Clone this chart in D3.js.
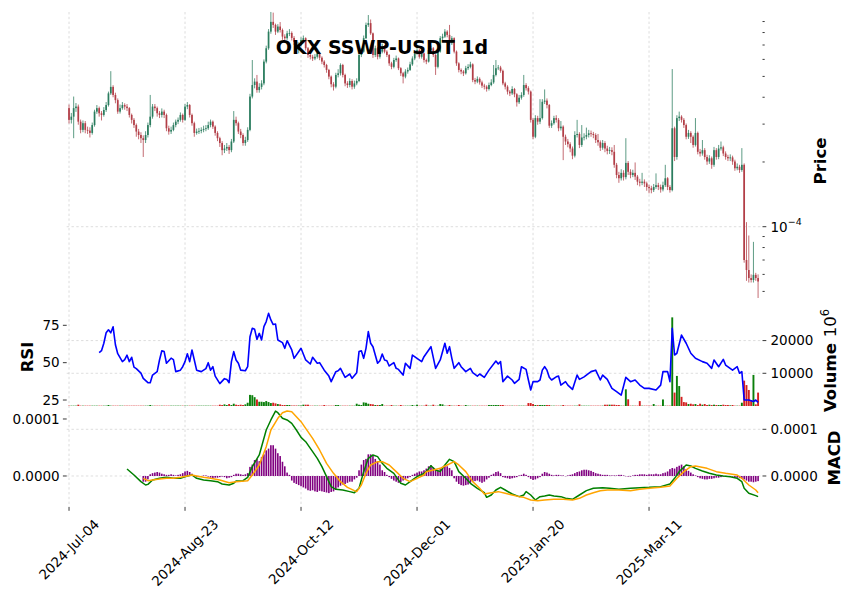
<!DOCTYPE html>
<html>
<head>
<meta charset="utf-8">
<script src="https://cdn.jsdelivr.net/npm/d3@7/dist/d3.min.js"></script>
<style>
  html,body{margin:0;padding:0;background:#fff;}
  svg{display:block;font-family:"DejaVu Sans","Liberation Sans",sans-serif;}
</style>
</head>
<body>
<svg id="chart" width="853" height="599"></svg>
<script>
// ---------------- DATA ----------------
const chartTitle = "OKX SSWP-USDT 1d";
const tickIdx = [0, 50, 100, 150, 200, 250];
const tickLabels = ["2024-Jul-04", "2024-Aug-23", "2024-Oct-12", "2024-Dec-01", "2025-Jan-20", "2025-Mar-11"];
const PRICE_UNIT = 1e-4;   // OHLC values below are in units of 1e-4 USDT
const MACD_UNIT = 1e-4;    // MACD values below are in units of 1e-4
const priceMajorTicks = [1e-4];
const priceMinorTicks = [5e-5, 6e-5, 7e-5, 8e-5, 9e-5, 2e-4, 3e-4, 4e-4, 5e-4, 6e-4, 7e-4, 8e-4, 9e-4];
const rsiTicks = [25, 50, 75];
const volTicks = [10000, 20000];       // volume axis in units of 1e6
const macdLeftTicks = [0, 1e-4];
const macdRightTicks = [0, 1e-4];

const opens = [
3.56,3.14,3.25,3.56,3.62,3.08,2.82,3.03,2.82,2.80,
2.73,2.97,3.43,3.56,3.37,3.31,3.49,3.68,4.17,4.47,
4.10,3.88,3.43,3.56,3.68,3.62,3.56,3.31,3.14,2.97,
2.77,2.67,2.58,2.53,2.67,2.97,3.25,3.62,3.56,3.37,
3.31,3.43,3.31,2.87,2.77,2.82,2.97,3.08,3.14,3.31,
3.14,3.62,3.68,3.31,3.03,2.73,2.77,2.79,2.82,2.85,
2.87,2.97,3.08,2.92,2.73,2.58,2.45,2.27,2.31,2.35,
2.27,2.49,3.14,3.03,2.77,2.67,2.45,2.53,2.82,4.03,
4.56,4.73,4.32,4.47,4.64,5.86,6.76,8.08,8.97,8.68,
8.08,8.53,8.22,7.66,7.53,7.93,7.96,7.55,7.24,6.63,
7.01,7.39,7.53,6.76,6.29,6.17,6.06,6.17,6.40,6.11,
5.86,5.65,5.36,4.99,4.60,4.48,5.08,5.17,5.65,5.08,
4.64,4.56,4.76,4.48,4.64,4.76,6.29,6.52,7.53,8.68,
8.85,7.93,6.29,6.76,6.17,6.52,6.88,6.52,6.29,5.75,
5.54,5.96,6.06,5.46,5.17,4.99,5.27,5.36,5.69,6.06,
6.40,6.63,6.17,6.40,5.96,5.86,6.63,6.76,6.29,5.54,
6.52,7.53,7.66,8.08,7.80,7.14,7.53,6.52,5.75,5.36,
5.27,5.17,5.46,5.54,5.69,4.81,4.73,4.87,4.69,4.53,
4.48,4.37,4.56,4.69,5.08,5.46,5.50,5.31,4.64,4.48,
4.25,4.17,4.37,4.13,3.79,3.98,4.10,4.56,4.41,4.25,
3.14,2.62,3.20,3.08,3.20,3.81,3.86,3.68,2.95,3.03,
3.20,3.14,2.87,2.92,2.62,2.49,2.42,2.31,2.14,2.67,
2.70,2.40,2.60,2.62,2.67,2.72,2.70,2.67,2.53,2.47,
2.33,2.45,2.31,2.25,2.27,2.23,1.94,1.74,1.68,1.78,
1.70,1.98,1.80,1.74,1.78,1.71,1.62,1.60,1.62,1.59,
1.53,1.51,1.48,1.53,1.56,1.53,1.49,1.56,1.68,1.53,
1.48,2.87,2.11,3.20,3.25,3.14,2.97,2.62,2.73,2.62,
2.40,2.73,2.23,2.19,2.27,2.11,2.01,2.08,1.94,2.27,
2.11,2.31,2.34,2.19,2.11,2.08,2.10,2.01,1.87,1.90,
1.835,1.94,0.70,0.629,0.577,0.565,0.597,0.577];

const highs = [
3.70,3.38,4.03,3.76,3.70,3.15,3.12,3.10,2.92,2.90,
3.05,3.50,3.68,3.62,3.45,3.60,3.80,4.25,5.29,4.55,
4.20,3.95,3.70,3.80,3.75,3.72,3.60,3.36,3.20,3.02,
2.85,2.75,2.66,2.78,3.05,4.10,3.72,3.72,3.62,3.45,
3.55,3.50,3.36,2.95,2.92,3.05,3.15,3.22,3.40,3.36,
3.72,3.80,3.72,3.36,3.08,2.86,2.88,2.90,2.95,2.97,
3.08,3.15,3.12,2.96,2.78,2.62,2.50,2.40,2.45,2.40,
2.56,3.45,3.25,3.08,2.85,2.72,2.62,2.90,4.15,5.96,
4.90,5.08,4.65,4.80,6.00,6.95,8.30,9.97,9.90,8.80,
8.75,8.95,8.35,7.85,8.15,8.30,8.10,7.70,7.35,7.20,
7.60,7.75,7.60,6.85,6.40,6.30,6.35,6.55,6.50,6.20,
5.95,5.72,5.42,5.05,4.70,5.20,5.40,5.75,5.72,5.15,
4.75,4.90,4.85,4.78,4.90,6.40,6.75,7.75,8.90,9.65,
9.20,8.00,6.95,6.85,6.70,7.10,7.00,6.62,6.35,5.85,
6.10,6.25,6.12,5.52,5.25,5.40,5.50,5.85,6.20,6.55,
6.80,6.70,6.55,6.45,6.05,6.80,6.95,6.85,6.35,6.65,
7.70,7.90,8.30,8.20,8.68,7.70,7.60,6.60,5.82,5.45,
5.35,5.60,5.70,5.85,5.75,4.92,5.00,4.95,4.78,4.62,
4.55,4.68,4.85,5.65,5.96,5.65,5.60,5.38,4.72,4.55,
4.32,4.50,4.42,4.18,4.10,4.22,5.08,4.65,4.50,4.30,
3.20,3.30,3.28,3.92,3.92,4.35,3.95,3.72,3.12,3.28,
3.30,3.20,3.10,2.96,2.68,2.56,2.47,2.36,2.78,3.14,
2.75,2.97,2.72,2.89,2.82,2.80,2.76,2.72,2.70,2.52,
2.53,2.50,2.38,2.35,2.34,2.40,1.98,1.80,1.85,1.83,
2.58,2.02,1.85,1.84,1.99,1.74,1.67,1.78,1.66,1.62,
1.57,1.55,1.58,1.77,1.60,1.57,1.62,1.94,1.70,1.56,
5.41,2.92,3.30,3.43,3.30,3.20,3.02,2.82,2.78,2.66,
3.20,2.77,2.30,2.53,2.32,2.16,2.15,2.12,2.35,2.32,
2.40,2.49,2.38,2.24,2.16,2.17,2.14,2.05,1.97,1.94,
2.32,1.97,1.05,0.91,0.60,0.85,0.61,0.60];

const lows = [
3.02,3.02,2.58,3.42,2.98,2.72,2.75,2.72,2.70,2.60,
2.68,2.92,3.35,3.25,3.12,3.25,3.42,3.62,4.10,4.00,
3.75,3.35,3.36,3.50,3.50,3.45,3.22,3.02,2.88,2.62,
2.55,2.45,2.11,2.45,2.60,2.90,3.18,3.45,3.25,3.20,
3.22,3.20,2.78,2.68,2.70,2.78,2.90,3.00,3.08,3.05,
3.10,3.52,3.22,2.95,2.62,2.68,2.70,2.72,2.75,2.78,
2.82,2.90,2.85,2.65,2.50,2.35,2.15,2.20,2.25,2.18,
2.22,2.45,2.95,2.70,2.58,2.38,2.38,2.48,2.78,3.95,
4.40,4.20,4.20,4.35,4.55,5.75,6.65,7.90,8.40,7.80,
7.95,8.00,7.40,7.30,7.40,7.70,7.35,7.00,6.45,6.40,
6.90,7.20,6.60,6.10,6.00,5.90,5.95,6.05,5.95,5.70,
5.50,5.20,4.85,4.45,4.30,4.40,4.95,5.05,4.95,4.50,
4.42,4.45,4.35,4.38,4.55,4.70,6.15,6.45,7.45,8.50,
7.80,6.10,6.15,6.00,6.05,6.40,6.40,6.15,5.60,5.40,
5.45,5.85,5.35,5.02,4.64,4.90,5.15,5.30,5.60,5.95,
6.30,6.05,6.05,5.80,5.70,5.80,6.50,6.15,5.08,5.45,
6.45,7.35,7.55,7.60,7.00,7.00,6.40,5.60,5.22,5.12,
5.02,5.10,5.35,5.45,4.70,4.60,4.65,4.58,4.42,4.35,
4.25,4.30,4.50,4.62,5.00,5.35,5.20,4.55,4.35,4.12,
4.05,4.10,4.00,3.62,3.72,3.90,4.02,4.30,4.12,3.05,
2.55,2.58,2.98,3.00,3.15,3.72,3.55,2.88,2.88,2.98,
3.05,2.78,2.80,2.04,2.40,2.34,2.22,2.06,2.10,2.60,
2.32,2.35,2.52,2.55,2.60,2.62,2.58,2.45,2.38,2.25,
2.28,2.22,2.17,2.18,2.15,1.88,1.68,1.60,1.64,1.64,
1.66,1.74,1.68,1.70,1.65,1.56,1.54,1.56,1.53,1.47,
1.43,1.43,1.45,1.50,1.48,1.44,1.46,1.53,1.48,1.44,
1.46,2.02,2.05,3.10,3.05,2.88,2.55,2.56,2.45,2.33,
2.36,2.17,2.12,2.14,2.05,1.94,1.96,1.86,1.90,2.05,
2.06,2.26,2.13,2.05,2.02,2.02,1.94,1.82,1.83,1.78,
1.80,0.68,0.56,0.55,0.55,0.55,0.56,0.466];

const closes = [
3.14,3.25,3.56,3.62,3.08,2.82,3.03,2.82,2.80,2.73,
2.97,3.43,3.56,3.37,3.31,3.49,3.68,4.17,4.47,4.10,
3.88,3.43,3.56,3.68,3.62,3.56,3.31,3.14,2.97,2.77,
2.67,2.58,2.53,2.67,2.97,3.25,3.62,3.56,3.37,3.31,
3.43,3.31,2.87,2.77,2.82,2.97,3.08,3.14,3.31,3.14,
3.62,3.68,3.31,3.03,2.73,2.77,2.79,2.82,2.85,2.87,
2.97,3.08,2.92,2.73,2.58,2.45,2.27,2.31,2.35,2.27,
2.49,3.14,3.03,2.77,2.67,2.45,2.53,2.82,4.03,4.56,
4.73,4.32,4.47,4.64,5.86,6.76,8.08,8.97,8.68,8.08,
8.53,8.22,7.66,7.53,7.93,7.96,7.55,7.24,6.63,7.01,
7.39,7.53,6.76,6.29,6.17,6.06,6.17,6.40,6.11,5.86,
5.65,5.36,4.99,4.60,4.48,5.08,5.17,5.65,5.08,4.64,
4.56,4.76,4.48,4.64,4.76,6.29,6.52,7.53,8.68,8.85,
7.93,6.29,6.76,6.17,6.52,6.88,6.52,6.29,5.75,5.54,
5.96,6.06,5.46,5.17,4.99,5.27,5.36,5.69,6.06,6.40,
6.63,6.17,6.40,5.96,5.86,6.63,6.76,6.29,5.54,6.52,
7.53,7.66,8.08,7.80,7.14,7.53,6.52,5.75,5.36,5.27,
5.17,5.46,5.54,5.69,4.81,4.73,4.87,4.69,4.53,4.48,
4.37,4.56,4.69,5.08,5.46,5.50,5.31,4.64,4.48,4.25,
4.17,4.37,4.13,3.79,3.98,4.10,4.56,4.41,4.25,3.14,
2.62,3.20,3.08,3.20,3.81,3.86,3.68,2.95,3.03,3.20,
3.14,2.87,2.92,2.62,2.49,2.42,2.31,2.14,2.67,2.70,
2.40,2.60,2.62,2.67,2.72,2.70,2.67,2.53,2.47,2.33,
2.45,2.31,2.25,2.27,2.23,1.94,1.74,1.68,1.78,1.70,
1.98,1.80,1.74,1.78,1.71,1.62,1.60,1.62,1.59,1.53,
1.51,1.48,1.53,1.56,1.53,1.49,1.56,1.68,1.53,1.48,
2.87,2.11,3.20,3.25,3.14,2.97,2.62,2.73,2.62,2.40,
2.73,2.23,2.19,2.27,2.11,2.01,2.08,1.94,2.27,2.11,
2.31,2.34,2.19,2.11,2.08,2.10,2.01,1.87,1.90,1.835,
1.94,0.70,0.629,0.577,0.565,0.597,0.577,0.556];

// volume, in units of 1e6
const volumes = [
100,100,100,100,400,100,100,100,100,100,
100,100,100,100,100,100,100,300,100,100,
100,100,100,100,100,100,100,100,100,100,
100,100,100,100,100,300,100,100,100,100,
100,100,100,100,100,100,100,100,100,100,
100,100,100,100,100,100,100,100,100,100,
100,100,100,100,100,400,300,500,300,600,
300,700,400,300,400,300,500,1000,3400,3300,
2700,2000,1300,1300,1200,1500,1200,900,1000,800,
600,500,300,300,300,300,150,150,150,150,
150,400,400,400,100,100,100,100,100,100,
300,100,100,100,100,300,300,100,100,100,
100,100,100,100,700,400,300,1100,1000,700,
600,500,300,300,300,600,100,100,100,300,
100,100,100,300,100,100,100,100,300,100,
400,100,100,100,400,100,100,400,100,100,
600,500,100,100,300,100,100,100,300,100,
100,300,100,100,100,100,100,100,100,100,
100,300,300,300,300,300,300,300,100,100,
100,100,100,100,100,100,100,100,900,900,
600,300,300,300,300,300,300,300,100,100,
100,100,100,300,100,100,100,100,100,100,
500,100,100,100,100,100,100,100,100,100,
100,400,400,400,400,400,300,300,100,100,
5100,2050,100,100,100,100,1500,100,100,100,
100,100,600,100,100,100,2000,100,100,100,
27100,4100,9200,6100,2800,1200,1100,600,700,500,
600,300,700,400,600,300,400,300,400,300,
300,300,400,300,300,200,300,100,100,100,
1000,7750,6400,4900,1800,9500,500,4100];

// RSI (read at these day indices)
const rsiIdx = [
13,14,15,16,17,18,19,20,21,23, 24,25,26,27,28,29,31,32,34,35,
36,38,39,40,41,42,44,45,46,48, 49,50,51,52,53,54,55,57,58,59,
60,61,62,63,65,67,68,69,70,71, 72,73,74,76,77,78,79,80,81,82,
83,84,85,86,87,88,89,90,92,93, 94,96,97,100,102,104,105,107,108,110,
112,113,115,116,117,119,121,122,124,125, 126,127,128,129,130,131,133,134,135,136,
137,138,140,141,142,144,145,147,148,150, 152,153,156,158,160,162,163,164,165,166,
168,169,171,173,174,176,177,179,181,184, 185,186,187,189,191,192,194,195,197,198,
199,200,202,203,204,205,206,207,208,210, 211,212,214,215,217,219,220,222,225,227,
229,230,232,234,236,238,240,242,244,246, 248,250,253,255,256,258,259,260,261,262,
264,266,268,270,273,275,277,278,280,282, 283,286,288,289,290,291,293,295,296,297];
const rsiVal = [
56.7,58,63,70,72,70,74,62,56,50.7, 52,55,50.7,53.6,47,46,43,39.5,36.6,36.6,
41.7,44,51.8,58,57.4,49.6,53,52,44,45, 47.3,50.7,56,50.7,58.5,51.8,45,44,45,46,
50,45,47.3,41,36,39.3,38.8,36.6,50.7,57.4, 51.8,49.6,45,44.6,47.3,67.4,73,72.3,65.6,69.6,
65.2,74.1,77.5,83,78.6,75.5,75.9,65.2,63.4,59.6, 64.7,58.5,52.9,59.6,51.8,49.1,53.6,49.6,50,45,
41,37.3,44,44.6,46.2,40.2,42.4,39.5,43.3,57.4, 58,52.9,59.6,70.8,63,60.7,49.6,51.3,55.8,51.8,
51.3,47.8,50,46.2,45.5,41.7,49.6,46.2,55.1,52.9, 50.7,54,60.7,46.2,51.8,63,56.3,60.7,52.9,46.2,
50,47.3,44,46.2,43.3,41,42.4,40.2,45,51.1, 49.1,50.7,37.3,41,38.4,36.2,38.8,47.3,45.5,38.4,
31.7,37.3,37.3,38.4,45,47.3,45,40.2,38.4,40.5, 41,35,37.3,35,32.1,41.7,38.8,40.5,44,45,
38.4,41.7,38.8,32.8,30.6,28.3,40.2,37.3,38.4,35, 32.8,32.8,31.7,35,44,44,37.3,73,55.1,56.3,
68.5,63,56.3,52.9,50.7,49.6,46.2,51.8,47.3,52.2, 48.4,45,47.3,42.9,44,25,25,24,25,23.4];

// MACD line (units of 1e-4)
const macdIdx = [25,28,31,33,34,36,39,42,45,48,51,53,55,58,61,64,66,69,71,72,
75,77,79,82,85,87,89,90,92,94,96,98,100,102,105,107,109,111,113,115,
118,121,123,125,127,129,131,133,135,137,140,143,145,147,150,153,154,156,158,160,
162,164,166,168,171,173,176,179,180,182,184,186,188,191,194,196,197,199,201,203,
205,207,209,212,214,217,220,223,226,230,233,237,242,246,250,255,259,261,263,266,
268,270,273,276,279,282,285,288,290,291,293,296,297];
const macdVal = [0.150,0.021,-0.121,-0.193,-0.179,-0.086,-0.050,-0.029,-0.050,-0.050,0,0.021,-0.050,-0.086,-0.100,-0.121,-0.171,-0.193,-0.157,-0.107,
-0.100,-0.029,0.200,0.450,0.985,1.20,1.39,1.356,1.235,1.20,1.128,0.985,0.828,0.735,0.521,0.378,0.200,-0.014,-0.228,-0.286,
-0.300,-0.335,-0.357,-0.264,0.093,0.378,0.450,0.414,0.271,0.164,0.057,-0.157,-0.193,-0.121,-0.014,0.057,0.093,0.221,0.128,0.093,
0.236,0.357,0.307,0.093,-0.050,-0.157,-0.264,-0.357,-0.457,-0.407,-0.300,-0.243,-0.300,-0.386,-0.442,-0.407,-0.335,-0.407,-0.514,-0.442,
-0.428,-0.407,-0.428,-0.442,-0.478,-0.500,-0.407,-0.314,-0.264,-0.250,-0.264,-0.286,-0.264,-0.250,-0.243,-0.228,-0.171,-0.050,0.093,0.236,
0.214,0.164,0.107,0.057,0.021,0,-0.014,-0.050,-0.121,-0.264,-0.371,-0.421,-0.443];

// MACD signal line (units of 1e-4)
const signalIdx = [32,34,36,39,42,45,48,51,53,55,58,61,65,69,72,77,79,82,85,87,
90,92,94,96,98,100,102,105,108,111,114,117,120,123,124,126,128,130,133,135,
138,141,144,147,150,153,154,157,160,163,166,168,171,174,177,179,182,185,188,191,
194,196,199,202,205,209,213,217,220,223,226,229,232,235,237,242,246,250,255,259,
262,265,268,270,275,279,283,288,290,293,296,297];
const signalVal = [-0.050,-0.100,-0.086,-0.064,-0.050,-0.050,-0.029,0,0.021,0,-0.029,-0.050,-0.086,-0.143,-0.121,-0.100,0.021,0.236,0.628,0.985,
1.235,1.356,1.392,1.378,1.271,1.164,1.021,0.807,0.557,0.271,0.057,-0.121,-0.243,-0.314,-0.335,-0.193,0.057,0.236,0.307,0.307,
0.236,0.093,-0.050,-0.121,-0.050,0.021,0.093,0.128,0.164,0.236,0.307,0.236,0.093,-0.121,-0.264,-0.386,-0.357,-0.335,-0.371,-0.407,
-0.442,-0.457,-0.514,-0.528,-0.514,-0.500,-0.500,-0.514,-0.478,-0.407,-0.357,-0.314,-0.300,-0.300,-0.300,-0.314,-0.286,-0.264,-0.243,-0.214,
-0.050,0.093,0.200,0.214,0.164,0.093,0.057,0.021,-0.050,-0.193,-0.300,-0.357];

// MACD histogram (units of 1e-4), one bar per day starting at histStart
const histStart = 32;
const histVal = [
-0.10,-0.10,-0.06,0.03,0.05,0.06,0.07,0.06,0.04,0.03,
0.02,0.02,0.03,0.02,0.01,0.02,0.03,0.05,0.08,0.09,
0.07,0.04,-0.01,-0.02,-0.02,-0.01,0.01,0.01,-0.01,-0.03,
-0.04,-0.03,-0.03,-0.02,-0.01,-0.02,-0.04,-0.03,-0.02,0.02,
0.04,0.04,0.03,0.02,0.03,0.05,0.16,0.20,0.28,0.30,
0.26,0.33,0.38,0.45,0.48,0.54,0.54,0.48,0.40,0.35,
0.25,0.17,0.06,0.02,-0.08,-0.12,-0.14,-0.16,-0.18,-0.20,
-0.22,-0.25,-0.26,-0.25,-0.27,-0.28,-0.26,-0.27,-0.28,-0.29,
-0.30,-0.28,-0.27,-0.24,-0.20,-0.17,-0.15,-0.14,-0.12,-0.10,
-0.10,-0.06,-0.03,0.10,0.20,0.28,0.30,0.38,0.38,0.36,
0.30,0.25,0.20,0.10,0.07,0.02,-0.02,-0.05,-0.08,-0.10,
-0.12,-0.11,-0.08,-0.05,-0.04,-0.02,0.02,0.04,0.06,0.08,
0.08,0.10,0.13,0.17,0.19,0.15,0.12,0.10,0.12,0.16,
0.18,0.17,0.14,0.10,-0.04,-0.10,-0.14,-0.16,-0.17,-0.16,
-0.15,-0.12,-0.10,-0.09,-0.08,-0.10,-0.12,-0.10,-0.06,-0.03,
0.02,0.04,0.07,0.08,0.05,-0.02,-0.03,-0.04,-0.05,-0.04,
-0.03,-0.02,0.01,0.02,0.04,0.02,-0.02,-0.05,-0.07,-0.06,
-0.04,-0.02,0.04,0.07,0.06,0.04,0.02,0.01,0.02,0.02,
0.01,0.01,0.00,0.01,0.02,0.03,0.05,0.07,0.08,0.10,
0.11,0.11,0.10,0.09,0.07,0.05,0.04,0.03,0.02,0.02,
0.02,0.01,0.01,0.01,0.01,0.02,0.02,0.01,0.00,-0.01,
-0.01,0.01,0.02,0.02,0.03,0.03,0.03,0.02,0.03,0.03,
0.03,0.04,0.03,0.03,0.05,0.06,0.08,0.12,0.14,0.13,
0.16,0.18,0.20,0.17,0.12,0.09,0.06,0.03,0.01,-0.02,
-0.04,-0.05,-0.06,-0.06,-0.05,-0.05,-0.04,-0.03,-0.03,-0.02,
-0.01,-0.01,0.00,-0.01,-0.01,-0.02,-0.03,-0.04,-0.05,-0.06,
-0.08,-0.10,-0.10,-0.11,-0.10,-0.09];

// ---------------- CHART ----------------
const svg = d3.select("#chart");
const L = 66.7, R = 762.5;
const P = { priceTop: 12, priceBot: 302, rsiTop: 302, rsiBot: 406, macdTop: 406, macdBot: 507 };

const x = d3.scaleLinear().domain([-1, 298.9]).range([L, R]);
const yPrice = d3.scaleLog().domain([4.561e-5, 9.968e-4]).range([300, 12]);
const yRsi = d3.scaleLinear().domain([21, 90.6]).range([P.rsiBot, P.rsiTop]);
const yVol = d3.scaleLinear().domain([0, 31800]).range([P.rsiBot, P.rsiTop]);
const yHist = d3.scaleLinear().domain([-0.544e-4, 1.228e-4]).range([P.macdBot, P.macdTop]);
const yMacd = d3.scaleLinear().domain([-0.664e-4, 1.499e-4]).range([P.macdBot, P.macdTop]);

const UP = "#2b7d5f", DOWN = "#b23e47";
const VUP = "#0a7f0a", VDOWN = "#d42020";
const FS = 13.5;
const TICKC = "#222";

// grid
const grid = svg.append("g").attr("stroke", "#cfcfcf").attr("stroke-width", 0.7)
  .attr("stroke-dasharray", "2.4,2.4").attr("fill", "none");
tickIdx.forEach(t => grid.append("line")
  .attr("x1", x(t)).attr("x2", x(t)).attr("y1", P.priceTop).attr("y2", P.macdBot));
const hLines = [
  yPrice(priceMajorTicks[0]),
  ...volTicks.map(v => yVol(v)),
  ...macdRightTicks.map(v => yMacd(v))
];
hLines.forEach(y => grid.append("line").attr("x1", L).attr("x2", R).attr("y1", y).attr("y2", y));

// candles
const N = closes.length;
const idx = d3.range(N);
const cg = svg.append("g");
idx.forEach(i => {
  const o = opens[i] * PRICE_UNIT, c = closes[i] * PRICE_UNIT;
  const h = highs[i] * PRICE_UNIT, l = lows[i] * PRICE_UNIT;
  const col = c >= o ? UP : DOWN;
  cg.append("line").attr("x1", x(i)).attr("x2", x(i))
    .attr("y1", yPrice(h)).attr("y2", yPrice(l))
    .attr("stroke", col).attr("stroke-width", 0.9).attr("stroke-opacity", 0.85);
  const top = yPrice(Math.max(o, c)), bot = yPrice(Math.min(o, c));
  cg.append("rect").attr("x", x(i) - 0.85).attr("width", 1.7)
    .attr("y", top).attr("height", Math.max(0.8, bot - top))
    .attr("fill", col);
});

// volume bars
const vg = svg.append("g");
idx.forEach(i => {
  const v = volumes[i];
  const col = closes[i] >= opens[i] ? VUP : VDOWN;
  vg.append("rect").attr("x", x(i) - 0.95).attr("width", 1.9)
    .attr("y", yVol(v)).attr("height", yVol(0) - yVol(v)).attr("fill", col);
});

// RSI line
const rsiPts = rsiIdx.map((d, k) => [d, rsiVal[k]]);
svg.append("path").datum(rsiPts)
  .attr("d", d3.line().x(d => x(d[0])).y(d => yRsi(d[1])))
  .attr("fill", "none").attr("stroke", "#0000ff").attr("stroke-width", 1.6)
  .attr("stroke-linejoin", "round");

// MACD histogram
const hg = svg.append("g");
histVal.forEach((v, k) => {
  const i = histStart + k;
  const val = v * MACD_UNIT;
  const y0 = yHist(0), y1 = yHist(val);
  hg.append("rect").attr("x", x(i) - 0.8).attr("width", 1.6)
    .attr("y", Math.min(y0, y1)).attr("height", Math.max(0.3, Math.abs(y1 - y0)))
    .attr("fill", "#800080");
});

// MACD and signal lines
const lineM = d3.line().x(d => x(d[0])).y(d => yMacd(d[1] * MACD_UNIT));
svg.append("path").datum(macdIdx.map((d, k) => [d, macdVal[k]]))
  .attr("d", lineM).attr("fill", "none").attr("stroke", "#008000").attr("stroke-width", 1.5)
  .attr("stroke-linejoin", "round");
svg.append("path").datum(signalIdx.map((d, k) => [d, signalVal[k]]))
  .attr("d", lineM).attr("fill", "none").attr("stroke", "#ffa500").attr("stroke-width", 1.5)
  .attr("stroke-linejoin", "round");

// ---- axes ----
const ag = svg.append("g").attr("stroke", TICKC).attr("stroke-width", 0.9);
const tg = svg.append("g").attr("fill", "#000").attr("font-size", FS);

// price axis (right, log)
priceMinorTicks.forEach(v => ag.append("line").attr("x1", R).attr("x2", R + 2.2)
  .attr("y1", yPrice(v)).attr("y2", yPrice(v)));
priceMajorTicks.forEach(v => {
  ag.append("line").attr("x1", R).attr("x2", R + 3.8).attr("y1", yPrice(v)).attr("y2", yPrice(v));
  const exp = Math.round(Math.log10(v));
  const t = tg.append("text").attr("x", R + 8).attr("y", yPrice(v) + 5);
  t.append("tspan").text("10");
  t.append("tspan").attr("font-size", 9.5).attr("dy", -6.5).text("\u2212" + Math.abs(exp));
});

// RSI axis (left)
rsiTicks.forEach(v => {
  ag.append("line").attr("x1", L - 3.8).attr("x2", L).attr("y1", yRsi(v)).attr("y2", yRsi(v));
  tg.append("text").attr("x", L - 7).attr("y", yRsi(v)).attr("dy", "0.35em")
    .attr("text-anchor", "end").text(v);
});

// volume axis (right)
volTicks.forEach(v => {
  ag.append("line").attr("x1", R).attr("x2", R + 3.8).attr("y1", yVol(v)).attr("y2", yVol(v));
  tg.append("text").attr("x", R + 8).attr("y", yVol(v)).attr("dy", "0.35em").text(v);
});

// MACD axes
macdLeftTicks.forEach(v => {
  ag.append("line").attr("x1", L - 3.8).attr("x2", L).attr("y1", yHist(v)).attr("y2", yHist(v));
  tg.append("text").attr("x", L - 7).attr("y", yHist(v)).attr("dy", "0.35em")
    .attr("text-anchor", "end").text(v.toFixed(4));
});
macdRightTicks.forEach(v => {
  ag.append("line").attr("x1", R).attr("x2", R + 3.8).attr("y1", yMacd(v)).attr("y2", yMacd(v));
  tg.append("text").attr("x", R + 8).attr("y", yMacd(v)).attr("dy", "0.35em").text(v.toFixed(4));
});

// x axis ticks and rotated labels
tickIdx.forEach((t, k) => {
  ag.append("line").attr("x1", x(t)).attr("x2", x(t)).attr("y1", P.macdBot).attr("y2", P.macdBot + 3.8);
  const txt = tg.append("text").attr("text-anchor", "middle").attr("dy", "0.35em").text(tickLabels[k]);
  const w = txt.node().getComputedTextLength();
  const cy = P.macdBot + 10 + (w + FS) * 0.7071 / 2;
  txt.attr("transform", `translate(${x(t)},${cy}) rotate(-45)`);
});

// labels
const lab = svg.append("g").attr("fill", "#000").attr("font-weight", "bold").attr("font-size", 16.5);
lab.append("text").attr("transform", "translate(826,161) rotate(-90)").attr("text-anchor", "middle").text("Price");
lab.append("text").attr("transform", "translate(33,357) rotate(-90)").attr("text-anchor", "middle").text("RSI");
const vl = lab.append("text").attr("transform", "translate(836,412) rotate(-90)").attr("text-anchor", "start");
vl.append("tspan").text("Volume  ");
vl.append("tspan").attr("font-weight", "normal").text("10");
vl.append("tspan").attr("font-weight", "normal").attr("font-size", 11.5).attr("dy", -7).text("6");
lab.append("text").attr("transform", "translate(840,458) rotate(-90)").attr("text-anchor", "middle").text("MACD");

// title
svg.append("text").attr("x", 382).attr("y", 54).attr("text-anchor", "middle")
  .attr("font-weight", "bold").attr("font-size", 19).attr("fill", "#000").text(chartTitle);
</script>
</body>
</html>
